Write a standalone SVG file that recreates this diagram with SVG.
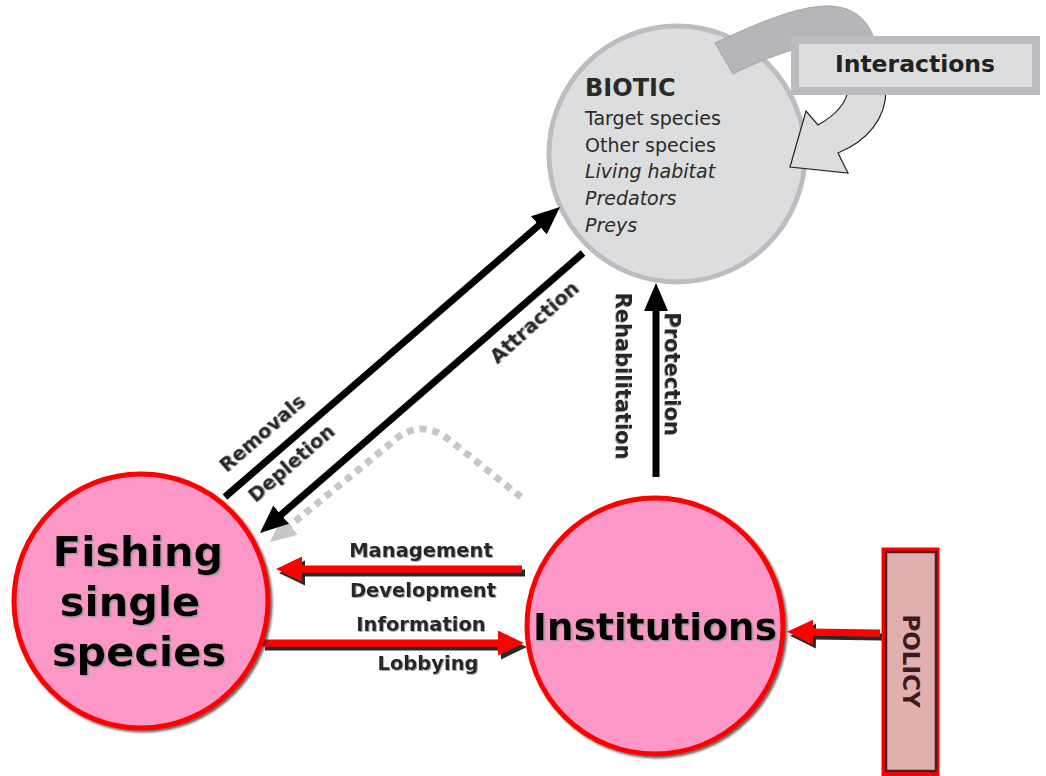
<svg xmlns="http://www.w3.org/2000/svg" width="1046" height="776" viewBox="0 0 1046 776">
<defs>
<style>
.lbl{font-family:"DejaVu Sans","Liberation Sans",sans-serif;font-weight:bold;font-size:19.5px;fill:#262626;filter:url(#tsh)}
.bt{font-family:"DejaVu Sans","Liberation Sans",sans-serif;font-size:19px;fill:#2a2a2a}
.big{font-family:"DejaVu Sans","Liberation Sans",sans-serif;font-weight:bold;fill:#000;filter:url(#tsh2)}
.blk{stroke:#000;stroke-width:7;fill:none}
.red{stroke:#ff0000;stroke-width:7;fill:none}
</style>
<filter id="tsh" x="-10%" y="-30%" width="120%" height="160%"><feDropShadow dx="1" dy="1" stdDeviation="0.6" flood-color="#888" flood-opacity="0.7"/></filter>
<filter id="tsh2" x="-10%" y="-30%" width="120%" height="160%"><feDropShadow dx="1.5" dy="1.5" stdDeviation="0.5" flood-color="#999" flood-opacity="0.9"/></filter>
<filter id="csh" x="-10%" y="-10%" width="120%" height="120%"><feDropShadow dx="2" dy="2" stdDeviation="1" flood-color="#222" flood-opacity="0.7"/></filter>
<filter id="rsh" x="-10%" y="-50%" width="120%" height="200%"><feDropShadow dx="3" dy="4" stdDeviation="0.6" flood-color="#1a1a1a" flood-opacity="0.95"/></filter>
<marker id="ab" markerUnits="userSpaceOnUse" markerWidth="30" markerHeight="26" refX="6" refY="12" orient="auto"><path d="M0,0 L28,12 L0,24 z" fill="#000"/></marker>
<marker id="ar" markerUnits="userSpaceOnUse" markerWidth="30" markerHeight="27" refX="4" refY="12.5" orient="auto"><path d="M0,0 L26,12.5 L0,25 z" fill="#ff0000"/></marker>
<marker id="ag" markerUnits="userSpaceOnUse" markerWidth="30" markerHeight="27" refX="4" refY="12" orient="auto"><path d="M0,0 L26,12 L0,24 z" fill="#c6c7c9"/></marker>
</defs>
<rect width="1046" height="776" fill="#ffffff"/>

<g id="biotic">
<circle cx="677" cy="154" r="128" fill="#dcdddf" stroke="#bcbdc0" stroke-width="5"/>
<text class="bt" x="585" y="96" style="font-weight:bold;font-size:24px">BIOTIC</text>
<text class="bt" x="585" y="125">Target species</text>
<text class="bt" x="585" y="152">Other species</text>
<text class="bt" x="585" y="178" font-style="italic">Living habitat</text>
<text class="bt" x="585" y="205" font-style="italic">Predators</text>
<text class="bt" x="585" y="232" font-style="italic">Preys</text>
</g>

<g id="connectors">
<path d="M715 43 C760 22 800 5 830 6 C854 7 867 20 873 36 L873 60 L792 60 L792 50 C770 57 750 65 733 74 Z" fill="#b5b6b9" stroke="#a3a4a7" stroke-width="1"/>
<path d="M848 90 L886 90 C886 119 867 141 838 153 L848 173 L790 167 L806 111 L818 125 C834 116 846 104 848 90 Z" fill="#dcdddf" stroke="#222" stroke-width="1.2"/>
<path d="M521 497 L452 442 Q420 415 390 444 L287 528" fill="none" stroke="#c6c7c9" stroke-width="7" stroke-dasharray="7 6" marker-end="url(#ag)"/>
<line class="blk" x1="225" y1="497" x2="543.4" y2="221.4" marker-end="url(#ab)"/>
<line class="blk" x1="583" y1="253" x2="276.6" y2="518.6" marker-end="url(#ab)"/>
<line class="blk" x1="656" y1="477" x2="656" y2="305" marker-end="url(#ab)"/>
<g filter="url(#rsh)">
<line class="red" x1="522" y1="569" x2="298" y2="569" marker-end="url(#ar)"/>
<line class="red" x1="262" y1="643" x2="502" y2="643" marker-end="url(#ar)"/>
<line class="red" x1="880" y1="633" x2="809" y2="632" marker-end="url(#ar)"/>
</g>
<text class="lbl" transform="translate(262,433) rotate(-41)" y="7" text-anchor="middle">Removals</text>
<text class="lbl" transform="translate(291,463) rotate(-41)" y="7" text-anchor="middle">Depletion</text>
<text class="lbl" transform="translate(534,322) rotate(-42)" y="7" text-anchor="middle">Attraction</text>
<text class="lbl" transform="translate(672,374) rotate(90)" y="7" text-anchor="middle" style="font-size:21px">Protection</text>
<text class="lbl" transform="translate(623,376) rotate(90)" y="7" text-anchor="middle" style="font-size:21px">Rehabilitation</text>
<text class="lbl" x="421" y="557" text-anchor="middle">Management</text>
<text class="lbl" x="423" y="597" text-anchor="middle">Development</text>
<text class="lbl" x="421" y="631" text-anchor="middle">Information</text>
<text class="lbl" x="428" y="670" text-anchor="middle">Lobbying</text>
</g>

<g id="interactions">
<rect x="795" y="40" width="241" height="51" fill="#dcdddf" stroke="#bbbcbf" stroke-width="8"/>
<text x="915" y="72" text-anchor="middle" style="font-family:'DejaVu Sans','Liberation Sans',sans-serif;font-weight:bold;font-size:23.5px;fill:#222">Interactions</text>
</g>

<g id="fishing">
<circle cx="141" cy="601" r="127" fill="#fd97c7" stroke="#ff0000" stroke-width="5" filter="url(#csh)"/>
<text class="big" x="138" y="566" text-anchor="middle" font-size="41.5">Fishing</text>
<text class="big" x="130" y="616" text-anchor="middle" font-size="41.5">single</text>
<text class="big" x="139" y="666" text-anchor="middle" font-size="41.5">species</text>
</g>

<g id="institutions">
<circle cx="655" cy="626" r="128" fill="#fd97c7" stroke="#ff0000" stroke-width="5" filter="url(#csh)"/>
<text class="big" x="655" y="640" text-anchor="middle" font-size="37.5">Institutions</text>
</g>

<g id="policy">
<rect x="881.5" y="547.5" width="58" height="235" fill="#ff0000"/>
<rect x="886" y="552" width="50" height="219" fill="#e2afb0" stroke="#4b1e1e" stroke-width="2.5"/>
<text transform="translate(911,661) rotate(90)" y="8" text-anchor="middle" style="font-family:'DejaVu Sans','Liberation Sans',sans-serif;font-weight:bold;font-size:23px;fill:#3b1c1c">POLICY</text>
</g>
</svg>
